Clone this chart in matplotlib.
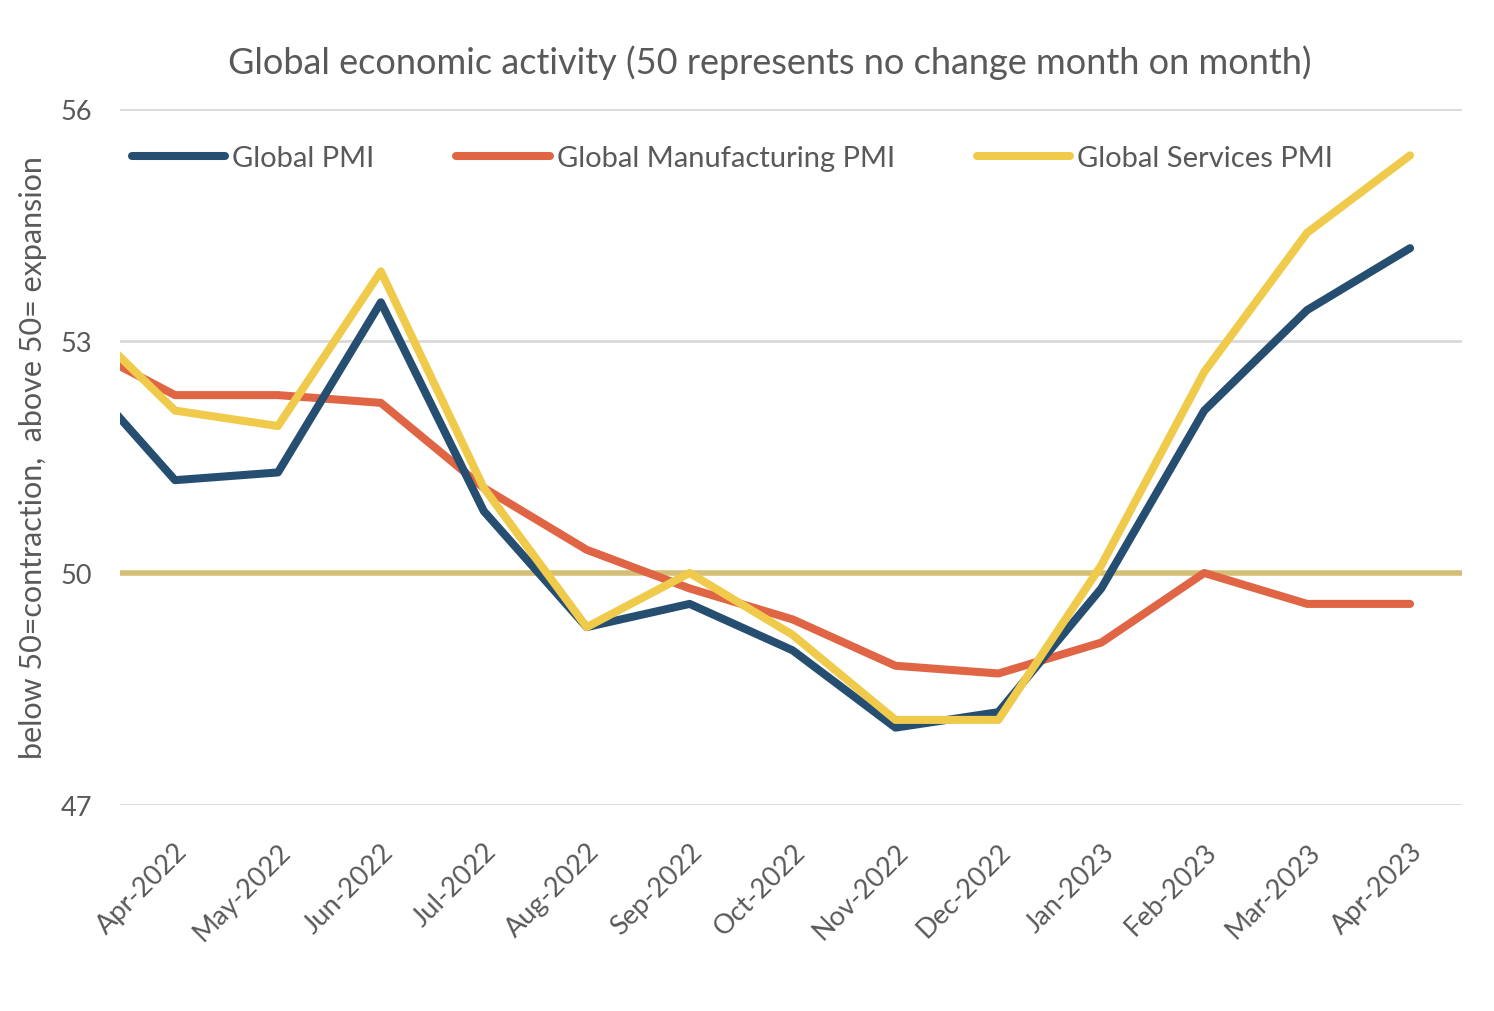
import matplotlib.pyplot as plt

plt.rcParams['font.family'] = ['Lato', 'DejaVu Sans']

# Monthly PMI readings (Mar-2022 is only partly visible at the left edge)
months = ['Mar-2022', 'Apr-2022', 'May-2022', 'Jun-2022', 'Jul-2022', 'Aug-2022', 'Sep-2022',
          'Oct-2022', 'Nov-2022', 'Dec-2022', 'Jan-2023', 'Feb-2023', 'Mar-2023', 'Apr-2023']
global_pmi = [52.7, 51.2, 51.3, 53.5, 50.8, 49.3, 49.6, 49.0, 48.0, 48.2, 49.8, 52.1, 53.4, 54.2]
manufacturing_pmi = [53.0, 52.3, 52.3, 52.2, 51.1, 50.3, 49.8, 49.4, 48.8, 48.7, 49.1, 50.0, 49.6, 49.6]
services_pmi = [53.4, 52.1, 51.9, 53.9, 51.1, 49.3, 50.0, 49.2, 48.1, 48.1, 50.1, 52.6, 54.4, 55.4]
y_ticks = [47, 50, 53, 56]

text_color = '#595959'

fig = plt.figure(figsize=(14.94, 10.12), dpi=100)
ax = fig.add_axes([0.0803, 0.2036, 0.8983, 0.6877])

x = list(range(len(months)))

# gridlines and the 50 reference line
for yv in y_ticks:
    ax.axhline(yv, color='#d9d9d9', lw=2, zorder=1)
ax.axhline(50, color='#d5bf78', lw=4, zorder=1)

ax.plot(x, global_pmi, color='#264e70', lw=5.8, solid_capstyle='round',
        solid_joinstyle='round', label='Global PMI', zorder=3)
ax.plot(x, manufacturing_pmi, color='#e06544', lw=5.8, solid_capstyle='round',
        solid_joinstyle='round', label='Global Manufacturing PMI', zorder=2)
ax.plot(x, services_pmi, color='#f0cb4b', lw=5.8, solid_capstyle='round',
        solid_joinstyle='round', label='Global Services PMI', zorder=4)

ax.set_xlim(0.465, 13.505)
ax.set_ylim(47, 56)
ax.set_yticks(y_ticks)
ax.set_yticklabels([str(v) for v in y_ticks], fontsize=19.5, color=text_color)
ax.set_xticks(x[1:])
ax.set_xticklabels(months[1:], rotation=45, ha='right', rotation_mode='anchor',
                   fontsize=19.5, color=text_color)
ax.tick_params(axis='both', length=0)
ax.tick_params(axis='x', pad=24)
ax.tick_params(axis='y', pad=20)
for s in ax.spines.values():
    s.set_visible(False)

ax.set_ylabel('below 50=contraction,  above 50= expansion', fontsize=22,
              color=text_color)
ax.yaxis.set_label_coords(-0.054, 0.5)

fig.suptitle('Global economic activity (50 represents no change month on month)',
             fontsize=26, color=text_color, x=0.515, y=0.955)

leg = ax.legend(loc='upper left', bbox_to_anchor=(0.0, 0.965), ncol=3, frameon=False,
                fontsize=21, handlelength=3.2, handletextpad=0.25, columnspacing=2.8,
                borderaxespad=0.0)
for t in leg.get_texts():
    t.set_color(text_color)

plt.savefig('out.png', dpi=100)
